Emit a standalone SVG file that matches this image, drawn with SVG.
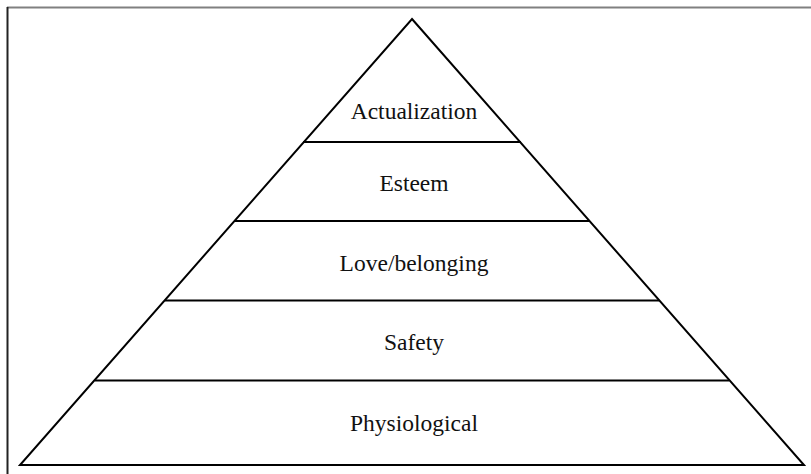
<svg xmlns="http://www.w3.org/2000/svg" width="811" height="474" viewBox="0 0 811 474">
<style>
.lvl{stroke:#000;stroke-width:2;fill:none}
.lbl{font-family:"Liberation Serif","Times New Roman",serif;font-size:23.5px;fill:#111;text-anchor:middle}
</style>
<rect width="811" height="474" fill="#fff"/>
<g id="frame">
<line x1="7" y1="7.5" x2="811" y2="7.5" stroke="#808080" stroke-width="2"/>
<line x1="7.5" y1="7" x2="7.5" y2="474" stroke="#222" stroke-width="2"/>
</g>
<g id="connectors">
<polygon class="lvl" points="412,19 804,465 20,465"/>
<line class="lvl" x1="303" y1="142" x2="521" y2="142"/>
<line class="lvl" x1="235" y1="221" x2="589" y2="221"/>
<line class="lvl" x1="165" y1="300.5" x2="659" y2="300.5"/>
<line class="lvl" x1="95" y1="380.5" x2="729" y2="380.5"/>
</g>
<g id="actualization"><text class="lbl" x="414" y="119">Actualization</text></g>
<g id="esteem"><text class="lbl" x="414" y="191">Esteem</text></g>
<g id="love"><text class="lbl" x="414" y="271">Love/belonging</text></g>
<g id="safety"><text class="lbl" x="414" y="350">Safety</text></g>
<g id="physiological"><text class="lbl" x="414" y="431">Physiological</text></g>
</svg>
